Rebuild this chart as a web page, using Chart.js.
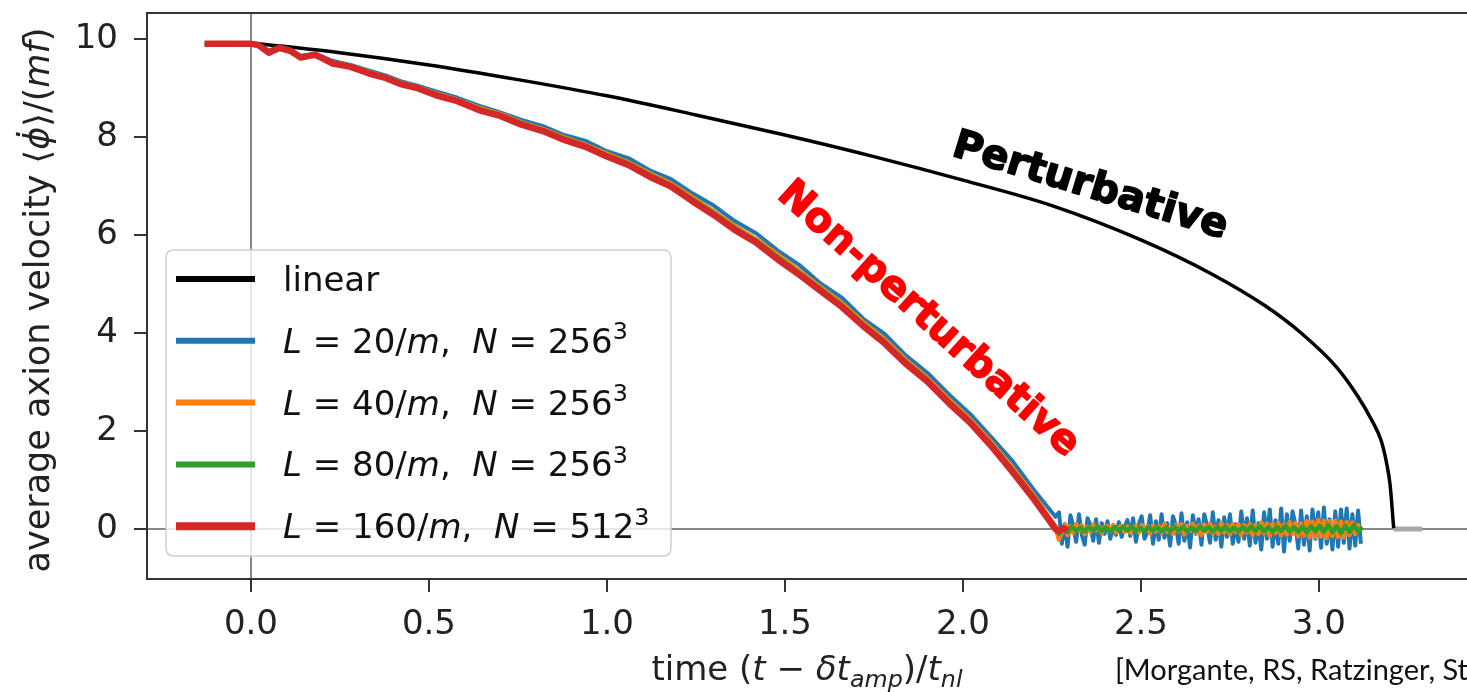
<!DOCTYPE html>
<html>
<head>
<meta charset="utf-8">
<script src="https://cdn.jsdelivr.net/npm/chart.js@4.4.1/dist/chart.umd.min.js"></script>
<style>
  html, body { margin: 0; padding: 0; background: #fff; overflow: hidden; }
  #wrap { width: 1467px; height: 692px; position: relative; }
</style>
</head>
<body>
<div id="wrap"><canvas id="chartAxion"></canvas></div>
<script>
      // --- data ---
      var linT = [0, 0.25, 0.5, 0.75, 1.0, 1.25, 1.5, 1.75, 2.0, 2.25, 2.5, 2.7, 2.85, 2.95, 3.05, 3.11, 3.15, 3.175, 3.19, 3.2, 3.21];
      var linV = [9.92, 9.72, 9.47, 9.17, 8.84, 8.45, 8.04, 7.6, 7.12, 6.6, 5.9, 5.2, 4.55, 4.0, 3.3, 2.7, 2.2, 1.8, 1.35, 0.9, 0.02];
      var stubT = [3.21, 3.29];
      var stubV = [0, 0];

      var simT = [-0.13, -0.1, -0.07, -0.04, 0, 0.02, 0.05, 0.08, 0.11, 0.14, 0.18, 0.23, 0.28, 0.33, 0.38,
        0.42, 0.47, 0.52, 0.58, 0.64, 0.7, 0.76, 0.82, 0.88, 0.94, 1.0, 1.06, 1.12, 1.18, 1.24,
        1.3, 1.36, 1.42, 1.48, 1.54, 1.6, 1.66, 1.72, 1.78, 1.84, 1.9, 1.96, 2.02, 2.08, 2.14, 2.2, 2.26];

      var redV = [9.9, 9.9, 9.9, 9.9, 9.9, 9.88, 9.72, 9.82, 9.76, 9.62, 9.68, 9.5, 9.43, 9.3, 9.2,
        9.08, 8.99, 8.85, 8.73, 8.55, 8.43, 8.25, 8.12, 7.94, 7.8, 7.6, 7.43, 7.19, 6.99, 6.69,
        6.41, 6.1, 5.84, 5.5, 5.19, 4.86, 4.53, 4.14, 3.79, 3.37, 3.01, 2.57, 2.17, 1.69, 1.16, 0.6, 0.0];
      var blueV = [9.9, 9.9, 9.9, 9.9, 9.92, 9.9, 9.76, 9.84, 9.78, 9.66, 9.7, 9.55, 9.47, 9.36, 9.25,
        9.14, 9.04, 8.93, 8.8, 8.64, 8.5, 8.35, 8.22, 8.04, 7.92, 7.71, 7.57, 7.32, 7.14, 6.85,
        6.6, 6.28, 6.03, 5.68, 5.39, 5.01, 4.72, 4.29, 3.98, 3.54, 3.19, 2.75, 2.35, 1.87, 1.38, 0.79, 0.25];
      var orangeV = [9.9, 9.9, 9.9, 9.9, 9.9, 9.86, 9.75, 9.8, 9.74, 9.64, 9.66, 9.52, 9.45, 9.33, 9.22,
        9.11, 9.01, 8.89, 8.76, 8.6, 8.47, 8.3, 8.16, 7.99, 7.84, 7.66, 7.48, 7.26, 7.05, 6.77,
        6.48, 6.18, 5.91, 5.6, 5.27, 4.94, 4.61, 4.22, 3.87, 3.45, 3.08, 2.65, 2.24, 1.77, 1.24, 0.68, 0.05];
      var greenV = [9.9, 9.9, 9.9, 9.9, 9.9, 9.87, 9.74, 9.81, 9.75, 9.63, 9.67, 9.51, 9.44, 9.31, 9.21,
        9.1, 9.0, 8.87, 8.74, 8.58, 8.45, 8.28, 8.14, 7.97, 7.82, 7.63, 7.46, 7.23, 7.02, 6.73,
        6.45, 6.14, 5.88, 5.55, 5.23, 4.9, 4.57, 4.18, 3.83, 3.41, 3.05, 2.61, 2.2, 1.73, 1.2, 0.64, 0.02];

      // oscillating tails around zero, sampled from tailStart
      var tailStart = 2.27;
      var blueTail = [0.34, -0.3, 0.1, -0.36, 0.28, 0.05, -0.26, 0.3, -0.12, -0.32, 0.22, 0.08, -0.24, 0.2, -0.28, 0.12, -0.1,
        0.16, -0.2, 0.06, -0.12, 0.14, -0.16, 0.04, 0.18, -0.14, 0.22, -0.26, 0.1, 0.26, -0.2, -0.06, 0.28, -0.3, 0.16, -0.22,
        0.3, -0.18, 0.12, -0.34, 0.26, 0.08, -0.3, 0.32, -0.24, 0.14, -0.38, 0.28, -0.1, 0.2, -0.32, 0.3, 0.06, -0.28, 0.34,
        -0.22, 0.18, -0.36, 0.24, -0.16, 0.3, -0.3, 0.1, -0.26, 0.36, -0.2, 0.22,
        -0.34, 0.38, -0.28, 0.12, -0.42, 0.34, -0.2, 0.4, -0.36, 0.18, -0.3, 0.42, -0.46, 0.3, -0.24, 0.36, 0.1, -0.4, 0.38,
        -0.32, 0.26, -0.44, 0.4, -0.2, 0.34, -0.38, 0.44, -0.3, 0.2, -0.42, 0.36, -0.36, 0.4, -0.28, 0.42, -0.4, 0.3, -0.34,
        0.38, -0.3];
      var orangeTail = [-0.22, -0.05, 0.08, -0.12, 0.06, -0.08, 0.1, -0.04, 0.07, -0.1, 0.05, -0.06, 0.09, -0.03, 0.06, -0.08, 0.04,
        0.06, -0.05, 0.08, -0.07, 0.03, 0.07, -0.06, 0.05, -0.08, 0.04, 0.06, -0.07, 0.08, -0.04, 0.05, -0.09, 0.07, -0.05, 0.06,
        -0.08, 0.1, -0.06, 0.04, -0.1, 0.08, -0.05, 0.09, -0.11, 0.06, -0.04, 0.1, -0.08, 0.07, -0.12, 0.09, -0.06, 0.11,
        -0.09, 0.05, -0.1, 0.12, -0.07, 0.08, -0.11, 0.1, -0.06, 0.09, -0.12, 0.08, -0.07,
        0.1, -0.12, 0.08, -0.1, 0.13, -0.09, 0.11, -0.14, 0.1, -0.08, 0.12, -0.13, 0.09, -0.11, 0.14, -0.1, 0.12, -0.15, 0.11,
        -0.13, 0.16, -0.17, 0.15, -0.16, 0.18, -0.15, 0.17, -0.18, 0.16, -0.14, 0.17, -0.16, 0.15, -0.17, 0.14, -0.12, 0.13,
        -0.1, 0.08, -0.06];
      var greenTail = [-0.1, 0.04, -0.06, 0.05, -0.04, 0.03, -0.05, 0.04, -0.03, 0.05, -0.04, 0.03, -0.05, 0.04, -0.03,
        0.04, -0.03, 0.05, -0.04, 0.03, -0.05, 0.04, -0.03, 0.04, -0.05, 0.03, -0.04, 0.05,
        -0.03, 0.04, -0.05, 0.03, -0.04, 0.05, -0.03, 0.04, -0.05, 0.04, -0.03, 0.05, -0.04, 0.03, -0.05, 0.04, -0.03,
        0.05, -0.04, 0.06, -0.05, 0.04, -0.06, 0.05, -0.04, 0.06, -0.05, 0.04, -0.06, 0.05, -0.07, 0.06, -0.05, 0.07,
        -0.06, 0.08, -0.07, 0.06, -0.08, 0.07, -0.06, 0.08, -0.05, 0.04];
      var redTail = [-0.05, 0.02, -0.03];

      var seriesLabels = ['linear', '$L = 20/m,  N = 256^3$', '$L = 40/m,  N = 256^3$', '$L = 80/m,  N = 256^3$', '$L = 160/m,  N = 512^3$'];
      var xTitle = 'time $(t \u2212 \u03b4t_{amp})/t_{nl}$';
      var yTitle = 'average axion velocity $\u27e8\u03d5\u0307\u27e9/(mf)$';
      var citation = '[Morgante, RS, Ratzinger, Stefanek]';
      var notes = [
        { text: 'Perturbative', x: 2.357, y: 6.98, angle: 17, color: '#000000', size: 40 },
        { text: 'Non-perturbative', x: 1.902, y: 4.27, angle: 42, color: '#ff0000', size: 40 }
      ];

      var FONT = "'DejaVu Sans'";

      function zip(ts, vs) {
        return ts.map(function (t, i) { return { x: t, y: vs[i] }; });
      }
      function withTail(ts, vs, tail, step) {
        var pts = zip(ts, vs);
        tail.forEach(function (v, i) { pts.push({ x: +(tailStart + i * step).toFixed(4), y: v }); });
        return pts;
      }

      // tiny mathtext-like renderer: $..$ = math, letters italic, ^ / _ = super/subscript
      function richRuns(str) {
        var runs = [], math = false;
        for (var i = 0; i < str.length; i++) {
          var c = str[i];
          if (c === '$') { math = !math; continue; }
          if (/[\u0300-\u036f]/.test(c) && runs.length) { runs[runs.length - 1].t += c; continue; }
          if (math && (c === '^' || c === '_')) {
            var body;
            if (str[i + 1] === '{') { var j = str.indexOf('}', i); body = str.slice(i + 2, j); i = j; }
            else { body = str[i + 1]; i++; }
            for (var k = 0; k < body.length; k++) {
              runs.push({ t: body[k], it: /[A-Za-z]/.test(body[k]), sc: 0.7, dy: c === '^' ? -0.4 : 0.22 });
            }
            continue;
          }
          runs.push({ t: c, it: math && /[A-Za-z\u03b1-\u03c9\u03d5]/.test(c), sc: 1, dy: 0 });
        }
        return runs;
      }
      function drawRich(ctx, str, x, y, size, align, color) {
        var runs = richRuns(str), w = 0;
        runs.forEach(function (r) {
          ctx.font = (r.it ? 'italic ' : '') + (size * r.sc) + 'px ' + FONT;
          r.w = ctx.measureText(r.t).width; w += r.w;
        });
        var cx = align === 'center' ? x - w / 2 : x;
        ctx.fillStyle = color; ctx.textAlign = 'left'; ctx.textBaseline = 'alphabetic';
        runs.forEach(function (r) {
          ctx.font = (r.it ? 'italic ' : '') + (size * r.sc) + 'px ' + FONT;
          ctx.fillText(r.t, cx, y + r.dy * size);
          cx += r.w;
        });
      }

      var framePlugin = {
        id: 'frame',
        beforeDatasetsDraw: function (chart) {
          var a = chart.chartArea, ctx = chart.ctx;
          ctx.save();
          ctx.strokeStyle = '#333'; ctx.lineWidth = 2;
          ctx.beginPath(); ctx.moveTo(a.left - 1, a.top); ctx.lineTo(a.right + 2, a.top); ctx.stroke();
          ctx.restore();
        }
      };

      var overlayPlugin = {
        id: 'overlay',
        afterDraw: function (chart) {
          var a = chart.chartArea, ctx = chart.ctx, xs = chart.scales.x, ys = chart.scales.y;
          ctx.save();

          // rotated annotations
          notes.forEach(function (n) {
            ctx.save();
            ctx.translate(xs.getPixelForValue(n.x), ys.getPixelForValue(n.y));
            ctx.rotate(n.angle * Math.PI / 180);
            ctx.font = 'bold ' + n.size + 'px ' + FONT;
            ctx.fillStyle = n.color; ctx.strokeStyle = n.color; ctx.lineWidth = 1.6; ctx.lineJoin = 'round';
            ctx.textAlign = 'center'; ctx.textBaseline = 'middle';
            ctx.fillText(n.text, 0, 0);
            ctx.strokeText(n.text, 0, 0);
            ctx.restore();
          });

          // legend box, lower left
          var lx = a.left + 19, lw = 505, lh = 306, ly = a.bottom - 23 - lh, r = 8;
          ctx.beginPath();
          ctx.moveTo(lx + r, ly); ctx.lineTo(lx + lw - r, ly); ctx.quadraticCurveTo(lx + lw, ly, lx + lw, ly + r);
          ctx.lineTo(lx + lw, ly + lh - r); ctx.quadraticCurveTo(lx + lw, ly + lh, lx + lw - r, ly + lh);
          ctx.lineTo(lx + r, ly + lh); ctx.quadraticCurveTo(lx, ly + lh, lx, ly + lh - r);
          ctx.lineTo(lx, ly + r); ctx.quadraticCurveTo(lx, ly, lx + r, ly);
          ctx.closePath();
          ctx.fillStyle = 'rgba(255,255,255,0.8)'; ctx.fill();
          ctx.strokeStyle = '#d0d0d0'; ctx.lineWidth = 1.5; ctx.stroke();

          var legendSets = chart.data.datasets.filter(function (d) { return d.label; });
          legendSets.forEach(function (d, i) {
            var cy = ly + 29 + i * 61.8;
            ctx.strokeStyle = d.borderColor; ctx.lineWidth = Math.max(6, d.borderWidth + 1.5); ctx.lineCap = 'butt';
            ctx.beginPath(); ctx.moveTo(lx + 10, cy); ctx.lineTo(lx + 89, cy); ctx.stroke();
            drawRich(ctx, d.label, lx + 117, cy + 12, 34, 'left', '#111');
          });

          // axis titles
          drawRich(ctx, xTitle, (a.left + a.right) / 2, 680, 34, 'center', '#222');
          ctx.save();
          ctx.translate(49, (a.top + a.bottom) / 2 + 4);
          ctx.rotate(-Math.PI / 2);
          drawRich(ctx, yTitle, 0, 0, 35, 'center', '#222');
          ctx.restore();

          // citation
          ctx.font = '29px Lato'; ctx.fillStyle = '#111'; ctx.textAlign = 'left'; ctx.textBaseline = 'alphabetic';
          ctx.fillText(citation, 1115, 680);
          ctx.restore();
        }
      };

      var zeroGrid = function (c) { return c.tick && c.tick.value === 0 ? '#888888' : 'rgba(0,0,0,0)'; };

      Chart.defaults.font.family = FONT;

      var ctx = document.getElementById('chartAxion');
      new Chart(ctx, {
        type: 'line',
        data: {
          datasets: [
            { label: seriesLabels[0], data: zip(linT, linV), borderColor: '#000000', borderWidth: 3.5, cubicInterpolationMode: 'monotone', order: 5 },
            { label: seriesLabels[1], data: withTail(simT, blueV, blueTail, 0.008), borderColor: '#1f77b4', borderWidth: 4, order: 4 },
            { label: seriesLabels[2], data: withTail(simT, orangeV, orangeTail, 0.008), borderColor: '#ff7f0e', borderWidth: 4.5, order: 3 },
            { label: seriesLabels[3], data: withTail(simT, greenV, greenTail, 0.012), borderColor: '#2ca02c', borderWidth: 4.5, order: 2 },
            { label: seriesLabels[4], data: withTail(simT, redV, redTail, 0.012), borderColor: '#d62728', borderWidth: 6.5, order: 1 },
            { label: '', data: zip(stubT, stubV), borderColor: '#a8a8a8', borderWidth: 5, order: 6 }
          ]
        },
        options: {
          responsive: true,
          maintainAspectRatio: false,
          animation: false,
          layout: { padding: { top: 13, right: 0, bottom: 0, left: 0 } },
          elements: { point: { radius: 0 }, line: { borderJoinStyle: 'round', tension: 0 } },
          scales: {
            x: {
              type: 'linear',
              min: -0.292,
              max: 3.416,
              afterFit: function (s) { s.height = 113; s.paddingLeft = 0; s.paddingRight = 0; },
              ticks: {
                stepSize: 0.5, includeBounds: false, autoSkip: false, maxRotation: 0, padding: 13,
                color: '#222', font: { size: 34 },
                callback: function (v) { return v.toFixed(1); }
              },
              grid: { color: zeroGrid, lineWidth: 2, tickLength: 13, tickColor: '#333', tickWidth: 2 },
              border: { color: '#333', width: 2 }
            },
            y: {
              min: -1.02,
              max: 10.53,
              afterFit: function (s) { s.width = 147; s.paddingTop = 0; s.paddingBottom = 0; },
              ticks: { stepSize: 2, includeBounds: false, padding: 16, color: '#222', font: { size: 34 } },
              grid: { color: zeroGrid, lineWidth: 2, tickLength: 13, tickColor: '#333', tickWidth: 2 },
              border: { color: '#333', width: 2 }
            }
          },
          plugins: {
            legend: { display: false },
            tooltip: { enabled: false },
            title: { display: false }
          }
        },
        plugins: [framePlugin, overlayPlugin]
      });
</script>
</body>
</html>
